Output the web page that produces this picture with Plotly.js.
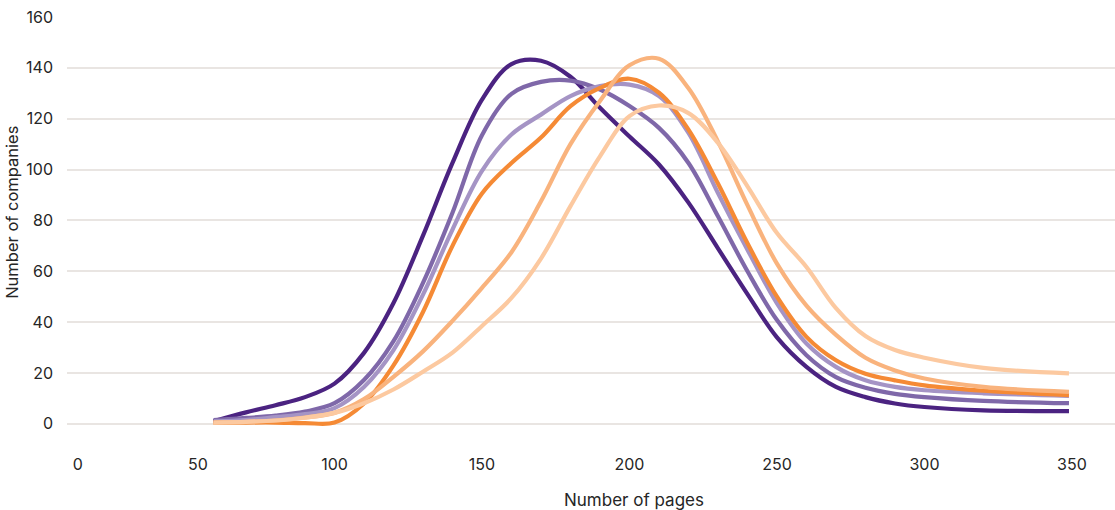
<!DOCTYPE html>
<html>
<head>
<meta charset="utf-8">
<script src="https://cdn.plot.ly/plotly-3.0.1.min.js"></script>
<style>html,body{margin:0;padding:0;background:#fff;}#chart{width:1115px;height:510px;}</style>
</head>
<body>
<div id="chart"></div>
<script>
// Number of pages (x) shared by the series
const pages = [59, 70, 80, 90, 100, 110, 120, 130, 140, 150, 160, 170, 180, 190, 200, 210, 220, 230, 240, 250, 260, 270, 280, 290, 300, 320, 349];

// Number of companies per series
const darkPurple  = [1, 4.5, 7.3, 10.5, 15.8, 27.9, 47.5, 74, 102.6, 127.5, 141.5, 142.8, 136.5, 124.3, 113, 102, 87, 69, 51, 34, 22.4, 14.5, 10.5, 8, 6.6, 5.3, 5];
const midPurple   = [1.5, 2.3, 3.2, 4.8, 8.1, 17.2, 32.5, 55.4, 83, 113.5, 129.8, 134.5, 135, 131.5, 125, 116.4, 102.6, 81.6, 60, 40.8, 27, 18.4, 14.2, 11.8, 10.5, 9, 8.1];
const lightPurple = [1, 1.5, 2.6, 3.8, 6.2, 14.5, 29, 50.8, 76.4, 99.5, 113.8, 121.6, 128.9, 132.8, 133.4, 128.9, 114.4, 90.8, 68.5, 47.4, 31.6, 22.4, 17.1, 14.5, 13.2, 12, 11];
const orange      = [0.5, 0.5, 0.5, 0.3, 0.5, 8, 23, 44, 70, 90.6, 102.6, 112.6, 124.9, 132.1, 135.7, 130.2, 115.7, 94.5, 71, 50, 34.2, 25, 19.7, 17.1, 15.1, 13, 11.3];
const midOrange   = [0.5, 0.8, 1.3, 2.5, 4.3, 9.7, 18.5, 28.5, 40.5, 53.5, 67.5, 87.5, 110, 127, 141, 143.6, 132, 111, 86, 63, 46.5, 35, 26, 21, 17.8, 14.5, 12.6];
const paleOrange  = [0.5, 0.8, 1.3, 2.4, 4.3, 8.1, 13.5, 20.5, 28, 38.5, 49.5, 65, 85.6, 105.2, 121, 125.2, 122.2, 110.5, 93.4, 75, 61.7, 45.5, 34.5, 29, 26, 22, 19.8];

// Axis tick labels
const xTickText = ['0', '50', '100', '150', '200', '250', '300', '350'];
const xTickPos  = [13, 53.7, 100, 150, 200, 250, 300, 350];
const yTickVals = [0, 20, 40, 60, 80, 100, 120, 140, 160];
const yGridVals = [0, 20, 40, 60, 80, 100, 120, 140];

const colors = ['#4b2381', '#7f68a9', '#a594c5', '#f58a35', '#f9b37d', '#fcc9a0'];
const seriesValues = [darkPurple, midPurple, lightPurple, orange, midOrange, paleOrange];

const yRange = [-10.3, 160];

// helper trace so the grid axis (y2) is drawn; carries no visible mark
const gridHelper = {type: 'scatter', mode: 'lines', x: [200], y: [null], xaxis: 'x', yaxis: 'y2',
  hoverinfo: 'skip', showlegend: false, line: {width: 0}};

const traces = [gridHelper].concat(seriesValues.map((vals, i) => ({
  type: 'scatter', mode: 'lines', x: pages, y: vals,
  line: {color: colors[i], width: 4.2, shape: 'spline', smoothing: 1},
  hoverinfo: 'skip', showlegend: false, xaxis: 'x', yaxis: 'y'
})));

const fontFam = 'Inter, "Open Sans", sans-serif';
const txt = '#262626';

const layout = {
  width: 1115, height: 510,
  margin: {l: 67, r: 0, t: 17, b: 60, pad: 0},
  paper_bgcolor: '#ffffff', plot_bgcolor: 'rgba(0,0,0,0)',
  font: {family: fontFam, size: 16, color: txt},
  showlegend: false,
  xaxis: {
    range: [9.32, 364.6], tickmode: 'array', tickvals: xTickPos, ticktext: xTickText,
    showgrid: false, zeroline: false, showline: false, ticks: '',
    ticklabelstandoff: 3, tickfont: {size: 16, color: txt}
  },
  yaxis: {
    range: yRange, tickmode: 'array', tickvals: yTickVals,
    showgrid: false, zeroline: false, showline: false, ticks: '',
    ticklabelstandoff: 13, tickfont: {size: 16, color: txt}
  },
  yaxis2: {
    range: yRange, overlaying: 'y', anchor: 'x', side: 'right',
    tickmode: 'array', tickvals: yGridVals, showticklabels: false,
    showgrid: true, gridcolor: '#e9e5e2', gridwidth: 2,
    zeroline: false, showline: false, ticks: ''
  },
  annotations: [
    {text: 'Number of pages', xref: 'paper', yref: 'paper', x: 0.541, y: -0.1155,
     xanchor: 'center', yanchor: 'middle', showarrow: false, font: {size: 17, color: txt}},
    {text: 'Number of companies', xref: 'paper', yref: 'paper', x: -0.0525, y: 0.55,
     xanchor: 'center', yanchor: 'middle', textangle: -90, showarrow: false, font: {size: 16.5, color: txt}}
  ]
};

Plotly.newPlot('chart', traces, layout, {displayModeBar: false, staticPlot: true});
</script>
</body>
</html>
